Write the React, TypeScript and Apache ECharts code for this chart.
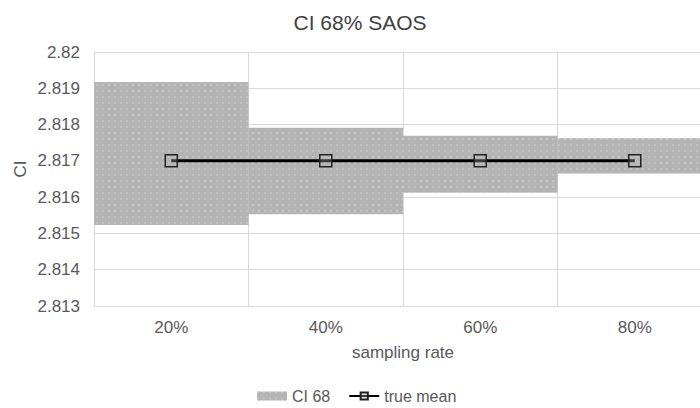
import React, { useEffect, useRef } from "react";
import * as echarts from "echarts";

const categories = ["20%", "40%", "60%", "80%"];
const lowerBound = [2.81523, 2.81553, 2.81612, 2.81665];
const upperBound = [2.81917, 2.81791, 2.81769, 2.81762];
const trueMean = [2.817, 2.817, 2.817, 2.817];

export default function App() {
  const ref = useRef<HTMLDivElement>(null);
  useEffect(() => {
    if (!ref.current) return;
    const chart = echarts.init(ref.current, null, { renderer: "svg" });
    const band = upperBound.map((u, i) => +(u - lowerBound[i]).toFixed(6));
    const font = "Liberation Sans, Arial, sans-serif";
    chart.setOption({
      animation: false,
      textStyle: { fontFamily: font },
      title: {
        text: "CI 68% SAOS",
        left: 355,
        textAlign: "center",
        top: 7,
        textStyle: { fontSize: 21, fontWeight: "normal", color: "#404040", fontFamily: font },
      },
      grid: { left: 94, right: -12, top: 52, bottom: 102, outerBoundsMode: "none", containLabel: false },
      graphic: [
        {
          type: "text",
          x: 20,
          y: 169,
          rotation: Math.PI / 2,
          style: {
            text: "CI",
            fontSize: 17,
            fill: "#595959",
            fontFamily: font,
            textAlign: "center",
            textVerticalAlign: "middle",
          },
        },
      ],
      legend: {
        top: 388,
        left: 257,
        padding: 0,
        itemGap: 18,
        itemWidth: 30,
        itemHeight: 9,
        textStyle: { fontSize: 16, color: "#595959", fontFamily: font },
        data: [
          { name: "CI 68", icon: "rect" },
          { name: "true mean" },
        ],
      },
      xAxis: {
        type: "category",
        data: categories,
        boundaryGap: true,
        name: "sampling rate",
        nameLocation: "middle",
        nameGap: 38,
        nameTextStyle: { fontSize: 17, color: "#595959" },
        axisLine: { show: true, lineStyle: { color: "#d9d9d9" } },
        axisTick: { show: false },
        axisLabel: { fontSize: 17, color: "#595959", margin: 13 },
        splitLine: { show: true, interval: 0, lineStyle: { color: "#d9d9d9" } },
      },
      yAxis: {
        type: "value",
        min: 2.813,
        max: 2.82,
        interval: 0.001,
        axisLine: { show: false },
        axisTick: { show: false },
        axisLabel: {
          fontSize: 17,
          color: "#595959",
          margin: 14,
          formatter: (v: number) => String(parseFloat(v.toFixed(3))),
        },
        splitLine: { show: true, lineStyle: { color: "#d9d9d9" } },
      },
      series: [
        {
          name: "base",
          type: "bar",
          stack: "ci",
          data: lowerBound,
          barWidth: "100%",
          barCategoryGap: 0,
          itemStyle: { color: "rgba(0,0,0,0)" },
          silent: true,
        },
        {
          name: "CI 68",
          type: "bar",
          stack: "ci",
          data: band,
          barWidth: "100%",
          barCategoryGap: 0,
          itemStyle: {
            color: "#b4b4b4",
            decal: {
              symbol: "rect",
              symbolSize: 0.5,
              color: "rgba(255,255,255,0.8)",
              dashArrayX: [[2, 4]],
              dashArrayY: [2, 4],
              rotation: 0,
            },
          },
        },
        {
          name: "true mean",
          type: "line",
          data: trueMean,
          symbol: "rect",
          symbolSize: 12,
          showAllSymbol: true,
          lineStyle: { color: "#000000", width: 3 },
          itemStyle: { color: "rgba(190,190,190,0.3)", borderColor: "#222222", borderWidth: 1.5 },
          z: 5,
        },
      ],
    });
    return () => chart.dispose();
  }, []);
  return (
    <div
      ref={ref}
      style={{ position: "fixed", left: 0, top: 0, width: 700, height: 408, background: "#ffffff" }}
    />
  );
}
